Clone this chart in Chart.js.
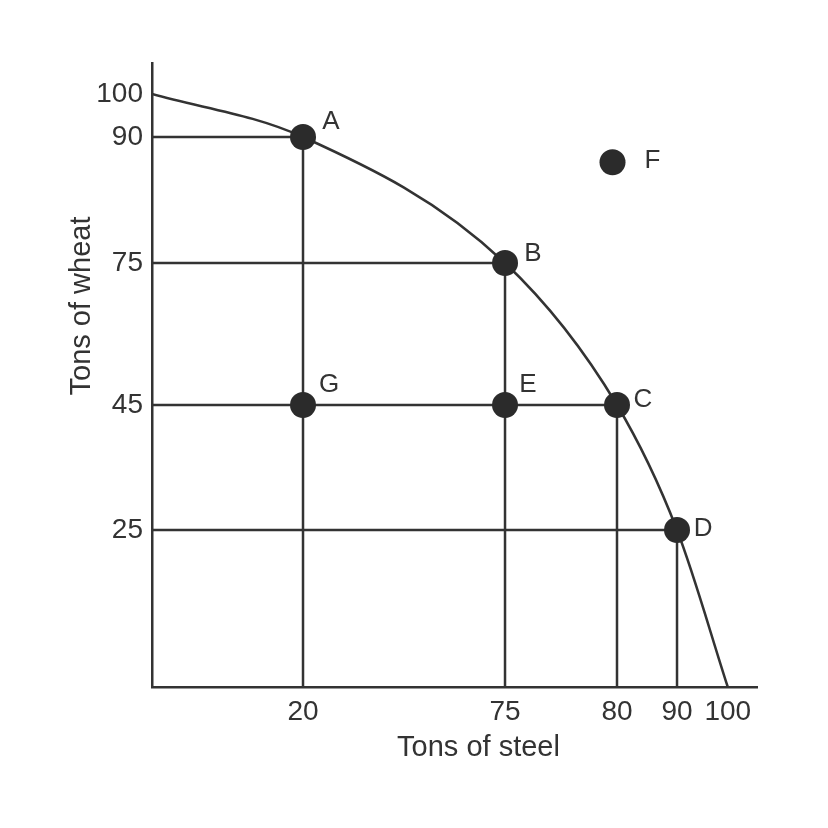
<!DOCTYPE html>
<html>
<head>
<meta charset="utf-8">
<script src="https://cdn.jsdelivr.net/npm/chart.js@4/dist/chart.umd.min.js"></script>
<style>
  html, body { margin: 0; padding: 0; background: #ffffff; }
  canvas { display: block; }
</style>
</head>
<body>
<canvas id="c" width="828" height="828"></canvas>
<script>
// ---------- data ----------
const pointLabels  = ['A', 'B', 'C', 'D', 'E', 'F', 'G'];
const steelValues  = [20, 75, 80, 90, 75, 79.8, 20];
const wheatValues  = [90, 75, 45, 25, 45, 87, 45];
const frontierSteel = [0, 20, 75, 80, 90, 100];
const frontierWheat = [100, 90, 75, 45, 25, 0];
const xTickValues = [20, 75, 80, 90, 100];
const yTickValues = [25, 45, 75, 90, 100];
const frontierPointNames = ['A', 'B', 'C', 'D'];
const xTitle = 'Tons of steel';
const yTitle = 'Tons of wheat';

// ---------- schematic (non-uniform) axis spacing, as drawn in the figure ----------
const AXIS_BREAKS = {
  x: [[0, 0], [20, 0.2496], [75, 0.5835], [80, 0.7686], [90, 0.8678], [100, 0.9517], [105, 1]],
  y: [[0, 0], [25, 0.2516], [45, 0.4519], [75, 0.6795], [90, 0.8814], [100, 0.9503], [105, 1]]
};

const LinearScale = Chart.LinearScale || Chart.registry.getScale('linear');
class PiecewiseScale extends LinearScale {
  _decimalFor(value) {
    const bp = AXIS_BREAKS[this.id];
    if (value <= bp[0][0]) return bp[0][1];
    for (let i = 1; i < bp.length; i++) {
      if (value <= bp[i][0]) {
        const [v0, f0] = bp[i - 1], [v1, f1] = bp[i];
        return f0 + (value - v0) / (v1 - v0) * (f1 - f0);
      }
    }
    return bp[bp.length - 1][1];
  }
  getPixelForValue(value) {
    if (value === null || value === undefined || isNaN(value)) return NaN;
    return this.getPixelForDecimal(this._decimalFor(value));
  }
  getValueForPixel(pixel) {
    const d = this.getDecimalForPixel(pixel);
    const bp = AXIS_BREAKS[this.id];
    for (let i = 1; i < bp.length; i++) {
      if (d <= bp[i][1]) {
        const [v0, f0] = bp[i - 1], [v1, f1] = bp[i];
        return v0 + (d - f0) / (f1 - f0) * (v1 - v0);
      }
    }
    return bp[bp.length - 1][0];
  }
}
PiecewiseScale.id = 'piecewise';
PiecewiseScale.defaults = {};
Chart.register(PiecewiseScale);

// ---------- styles ----------
const INK = '#333333';
const DOT = '#2b2b2b';
const FONT = "'Liberation Sans', Arial, Helvetica, sans-serif";

// ---------- datasets ----------
const pts = pointLabels.map((n, i) => ({ x: steelValues[i], y: wheatValues[i], name: n }));
const datasets = [];

datasets.push({
  label: 'points',
  data: pts,
  showLine: false,
  pointRadius: 13,
  pointHoverRadius: 13,
  pointBackgroundColor: DOT,
  pointBorderWidth: 0,
  order: 0
});

datasets.push({
  label: 'frontier',
  data: frontierSteel.map((x, i) => ({ x, y: frontierWheat[i] })),
  borderColor: INK,
  borderWidth: 2.5,
  pointRadius: 0,
  cubicInterpolationMode: 'monotone',
  fill: false,
  order: 2
});

frontierPointNames.forEach(name => {
  const p = pts.find(q => q.name === name);
  datasets.push({
    label: 'h' + name,
    data: [{ x: 0, y: p.y }, { x: p.x, y: p.y }],
    borderColor: INK, borderWidth: 2.5, pointRadius: 0, order: 3
  });
  datasets.push({
    label: 'v' + name,
    data: [{ x: p.x, y: 0 }, { x: p.x, y: p.y }],
    borderColor: INK, borderWidth: 2.5, pointRadius: 0, order: 3
  });
});

// ---------- plugins ----------
const pointLabelOffsets = {
  A: [28, -15], B: [28, -9], C: [26, -5], D: [26, -1],
  E: [23, -20], F: [40, -1], G: [26, -20]
};

const annotate = {
  id: 'annotate',
  afterDatasetsDraw(chart) {
    const ctx = chart.ctx;
    const meta = chart.getDatasetMeta(0);
    ctx.save();
    ctx.fillStyle = INK;
    ctx.font = '26px ' + FONT;
    ctx.textAlign = 'center';
    ctx.textBaseline = 'middle';
    meta.data.forEach((el, i) => {
      const name = pointLabels[i];
      const off = pointLabelOffsets[name];
      ctx.fillText(name, el.x + off[0], el.y + off[1]);
    });
    // axis titles
    const a = chart.chartArea;
    ctx.font = '29px ' + FONT;
    ctx.fillText(xTitle, (a.left + a.right) / 2 + 24, a.bottom + 61);
    ctx.translate(a.left - 70, (a.top + a.bottom) / 2 - 69);
    ctx.rotate(-Math.PI / 2);
    ctx.fillText(yTitle, 0, 0);
    ctx.restore();
  }
};

// ---------- chart ----------
new Chart(document.getElementById('c'), {
  type: 'line',
  data: { datasets },
  options: {
    responsive: false,
    animation: false,
    events: [],
    layout: { padding: { top: 63, right: 71, left: 0, bottom: 0 } },
    plugins: { legend: { display: false }, tooltip: { enabled: false } },
    scales: {
      x: {
        type: 'piecewise',
        min: 0, max: 105,
        grid: { display: false, drawTicks: false },
        border: { display: true, color: INK, width: 2.5 },
        afterBuildTicks: s => { s.ticks = xTickValues.map(v => ({ value: v })); },
        afterFit: s => { s.height = 141; },
        ticks: {
          autoSkip: false, maxRotation: 0, padding: 8,
          color: INK, font: { family: FONT, size: 28 },
          callback: v => String(v)
        }
      },
      y: {
        type: 'piecewise',
        min: 0, max: 105,
        grid: { display: false, drawTicks: false },
        border: { display: true, color: INK, width: 2.5 },
        afterBuildTicks: s => { s.ticks = yTickValues.map(v => ({ value: v })); },
        afterFit: s => { s.width = 152; },
        ticks: {
          autoSkip: false, padding: 9,
          color: INK, font: { family: FONT, size: 28 },
          callback: v => String(v)
        }
      }
    }
  },
  plugins: [annotate]
});
</script>
</body>
</html>
